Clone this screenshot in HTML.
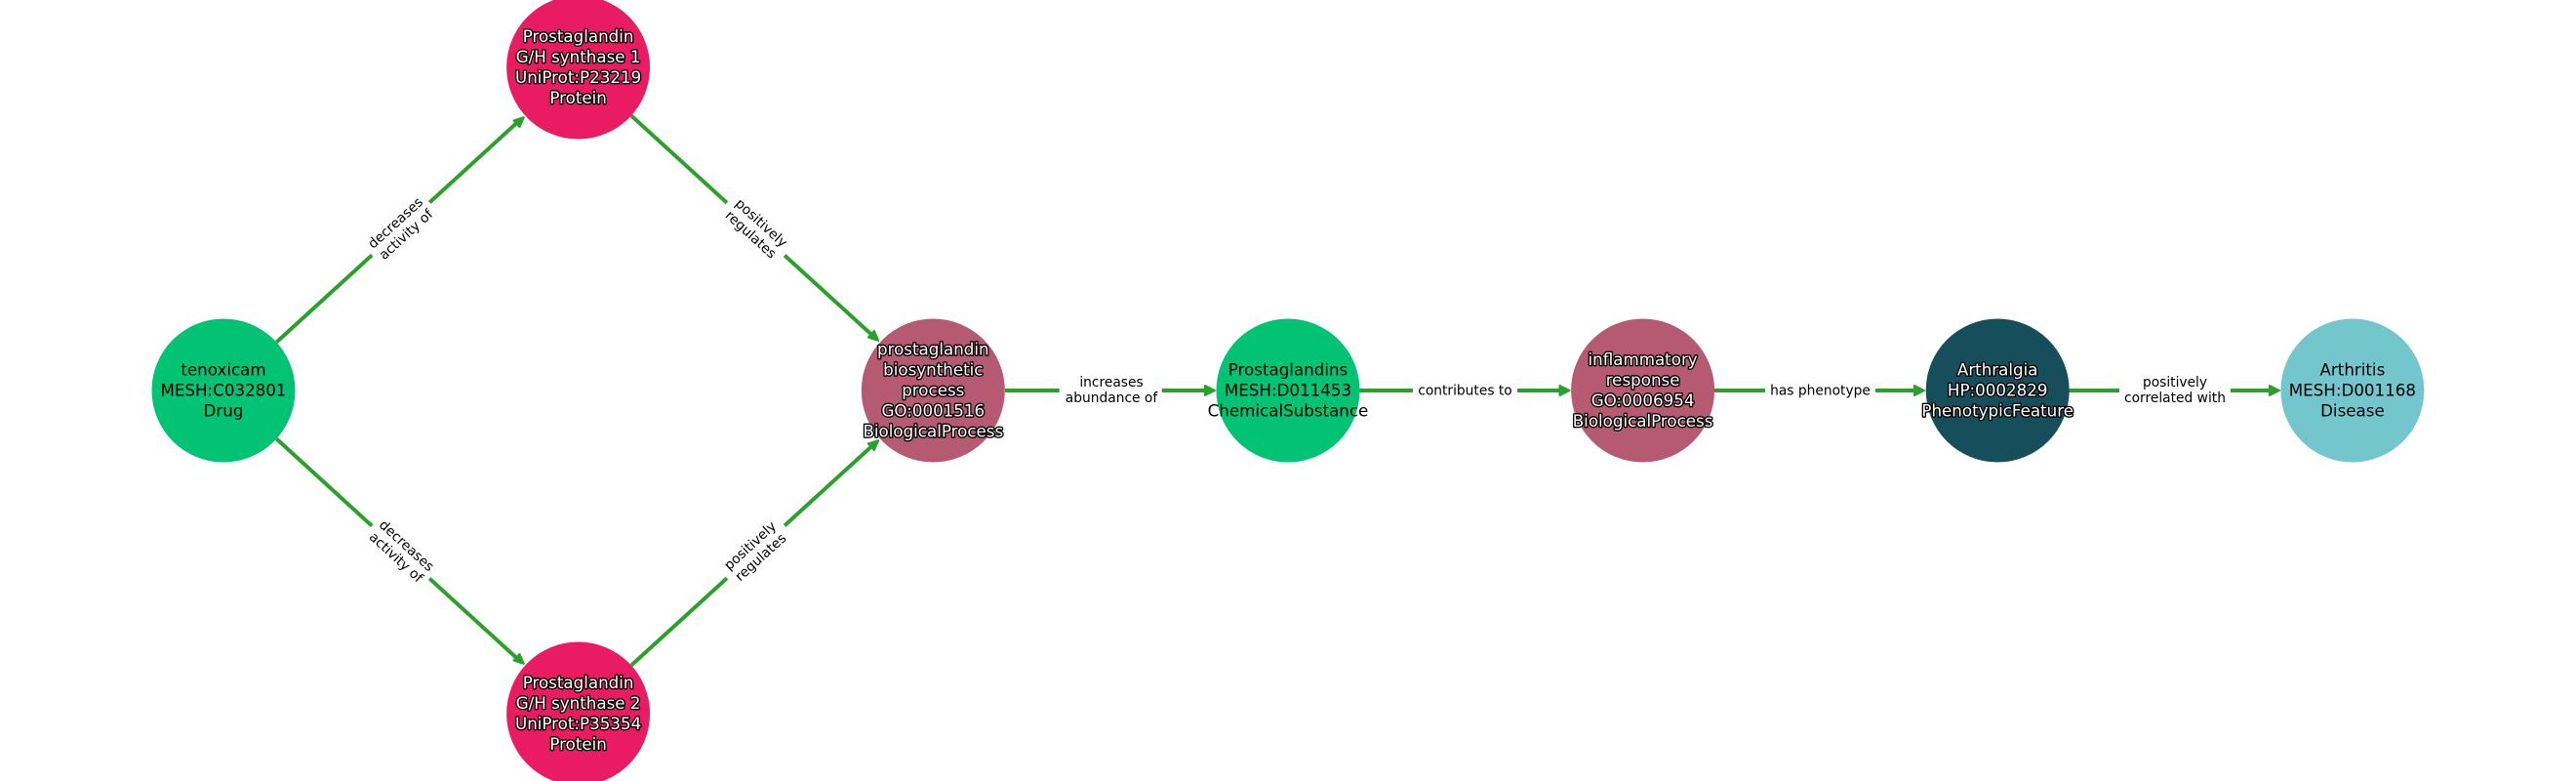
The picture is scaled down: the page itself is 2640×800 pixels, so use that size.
<!DOCTYPE html>
<html><head><meta charset="utf-8"><style>
html,body{margin:0;padding:0;background:#fff}
svg{display:block}
text{font-family:"DejaVu Sans",sans-serif;text-anchor:middle}
.n{font-size:16.7px;fill:#000}
.w{font-size:16.7px;fill:#fff;stroke:#000;stroke-width:2.7px;paint-order:stroke;stroke-linejoin:round}
.e{font-size:13.8px;fill:#000}
.l{stroke:#2ca02c;stroke-width:4;fill:none}
.h{fill:#2ca02c;stroke:#2ca02c;stroke-width:2;stroke-linejoin:round}
</style></head><body>
<svg width="2640" height="800" viewBox="0 0 2640 800" xmlns="http://www.w3.org/2000/svg">
<rect width="2640" height="800" fill="#fff"/>
<line class="l" x1="283.4" y1="350.5" x2="530" y2="125.5"/>
<line class="l" x1="283.4" y1="449.5" x2="530" y2="674.5"/>
<line class="l" x1="647" y1="118.5" x2="894" y2="343.5"/>
<line class="l" x1="647" y1="681.5" x2="894" y2="456.5"/>
<line class="l" x1="1030" y1="400" x2="1238" y2="400"/>
<line class="l" x1="1393" y1="400" x2="1602" y2="400"/>
<line class="l" x1="1757" y1="400" x2="1966" y2="400"/>
<line class="l" x1="2120" y1="400" x2="2330" y2="400"/>
<g transform="translate(537.6,119.4) rotate(-42.3)"><path class="h" d="M-1,0L-11,-4.5L-11,4.5Z"/></g>
<g transform="translate(537.6,680.6) rotate(42.3)"><path class="h" d="M-1,0L-11,-4.5L-11,4.5Z"/></g>
<g transform="translate(901,349.6) rotate(42.3)"><path class="h" d="M-1,0L-11,-4.5L-11,4.5Z"/></g>
<g transform="translate(901,450.4) rotate(-42.3)"><path class="h" d="M-1,0L-11,-4.5L-11,4.5Z"/></g>
<g transform="translate(1246,400)"><path class="h" d="M-1,0L-11,-5L-11,5Z"/></g>
<g transform="translate(1609.5,400)"><path class="h" d="M-1,0L-11,-5L-11,5Z"/></g>
<g transform="translate(1973,400)"><path class="h" d="M-1,0L-11,-5L-11,5Z"/></g>
<g transform="translate(2337,400)"><path class="h" d="M-1,0L-11,-5L-11,5Z"/></g>

<circle cx="229" cy="400" r="73.5" fill="#02c373"/>
<circle cx="592.6" cy="69" r="73.5" fill="#e91c63"/>
<circle cx="592.6" cy="731" r="73.5" fill="#e91c63"/>
<circle cx="956.3" cy="400" r="73.5" fill="#b55a72"/>
<circle cx="1320" cy="400" r="73.5" fill="#02c373"/>
<circle cx="1683.6" cy="400" r="73.5" fill="#b55a72"/>
<circle cx="2047.2" cy="400" r="73.5" fill="#164f5b"/>
<circle cx="2410.9" cy="400" r="73.5" fill="#72c6cc"/>

<text class="n" x="229"><tspan x="229" y="384.5">tenoxicam</tspan><tspan x="229" y="405.5">MESH:C032801</tspan><tspan x="229" y="426.5">Drug</tspan></text>
<text class="w" x="592.6"><tspan x="592.6" y="43">Prostaglandin</tspan><tspan x="592.6" y="64">G/H synthase 1</tspan><tspan x="592.6" y="85">UniProt:P23219</tspan><tspan x="592.6" y="106">Protein</tspan></text>
<text class="w" x="592.6"><tspan x="592.6" y="705">Prostaglandin</tspan><tspan x="592.6" y="726">G/H synthase 2</tspan><tspan x="592.6" y="747">UniProt:P35354</tspan><tspan x="592.6" y="768">Protein</tspan></text>
<text class="w" x="956.3"><tspan x="956.3" y="363.5">prostaglandin</tspan><tspan x="956.3" y="384.5">biosynthetic</tspan><tspan x="956.3" y="405.5">process</tspan><tspan x="956.3" y="426.5">GO:0001516</tspan><tspan x="956.3" y="447.5">BiologicalProcess</tspan></text>
<text class="n" x="1320"><tspan x="1320" y="384.5">Prostaglandins</tspan><tspan x="1320" y="405.5">MESH:D011453</tspan><tspan x="1320" y="426.5">ChemicalSubstance</tspan></text>
<text class="w" x="1683.6"><tspan x="1683.6" y="374">inflammatory</tspan><tspan x="1683.6" y="395">response</tspan><tspan x="1683.6" y="416">GO:0006954</tspan><tspan x="1683.6" y="437">BiologicalProcess</tspan></text>
<text class="w" x="2047.2"><tspan x="2047.2" y="384.5">Arthralgia</tspan><tspan x="2047.2" y="405.5">HP:0002829</tspan><tspan x="2047.2" y="426.5">PhenotypicFeature</tspan></text>
<text class="n" x="2410.9"><tspan x="2410.9" y="384.5">Arthritis</tspan><tspan x="2410.9" y="405.5">MESH:D001168</tspan><tspan x="2410.9" y="426.5">Disease</tspan></text>

<g transform="translate(411,234.7) rotate(-42.3)"><rect x="-40" y="-18" width="80" height="36" fill="#fff"/><text class="e" y="-4">decreases</text><text class="e" y="12">activity of</text></g>
<g transform="translate(411,565.3) rotate(42.3)"><rect x="-40" y="-18" width="80" height="36" fill="#fff"/><text class="e" y="-4">decreases</text><text class="e" y="12">activity of</text></g>
<g transform="translate(774.5,234.7) rotate(42.3)"><rect x="-40" y="-18" width="80" height="36" fill="#fff"/><text class="e" y="-4">positively</text><text class="e" y="12">regulates</text></g>
<g transform="translate(774.5,565.3) rotate(-42.3)"><rect x="-40" y="-18" width="80" height="36" fill="#fff"/><text class="e" y="-4">positively</text><text class="e" y="12">regulates</text></g>

<rect x="1085.7" y="382" width="105" height="36" fill="#fff"/>
<text class="e" x="1139" y="396">increases</text><text class="e" x="1139" y="412">abundance of</text>
<rect x="1448" y="390" width="107" height="20" fill="#fff"/>
<text class="e" x="1501.5" y="404.5">contributes to</text>
<rect x="1809" y="390" width="113" height="20" fill="#fff"/>
<text class="e" x="1865.5" y="404.5">has phenotype</text>
<rect x="2172" y="382" width="114" height="36" fill="#fff"/>
<text class="e" x="2229" y="396">positively</text><text class="e" x="2229" y="412">correlated with</text>
</svg>
</body></html>
